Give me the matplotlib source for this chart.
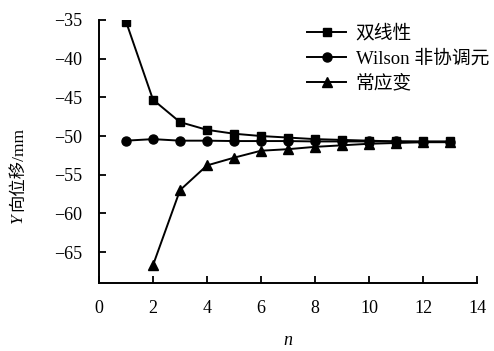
import matplotlib
matplotlib.use('Agg')
import matplotlib.pyplot as plt

plt.rcParams['font.family'] = ['Liberation Serif', 'Noto Sans CJK SC']
plt.rcParams['axes.unicode_minus'] = True

#%% data
n_bilinear = [1, 2, 3, 4, 5, 6, 7, 8, 9, 10, 11, 12, 13]
y_bilinear = [-35.2, -45.3, -48.2, -49.2, -49.7, -50.0, -50.2, -50.4, -50.5, -50.6, -50.7, -50.7, -50.7]

n_wilson = [1, 2, 3, 4, 5, 6, 7, 8, 9, 10, 11, 12, 13]
y_wilson = [-50.6, -50.4, -50.6, -50.6, -50.65, -50.65, -50.65, -50.7, -50.7, -50.7, -50.7, -50.75, -50.75]

n_const = [2, 3, 4, 5, 6, 7, 8, 9, 10, 11, 12, 13]
y_const = [-66.7, -57.0, -53.8, -52.8, -51.9, -51.7, -51.4, -51.2, -51.0, -50.9, -50.8, -50.8]

labels = ['双线性', 'Wilson 非协调元', '常应变']
xticks = [0, 2, 4, 6, 8, 10, 12, 14]
yticks = [-35, -40, -45, -50, -55, -60, -65]

#%%
W, H = 494, 351
fig = plt.figure(figsize=(W / 100, H / 100), dpi=100)
ax = fig.add_axes([99 / W, 1 - 283 / H, 378 / W, 263 / H])

ax.plot(n_bilinear, y_bilinear, color='black', lw=1.4, marker='s', ms=6, label=labels[0])
ax.plot(n_wilson, y_wilson, color='black', lw=1.4, marker='o', ms=6.5, label=labels[1])
ax.plot(n_const, y_const, color='black', lw=1.4, marker='^', ms=6.5, label=labels[2])

ax.set_xlim(0, 14)
ax.set_ylim(-69, -35)
ax.set_xticks(xticks)
ax.set_yticks(yticks)
ax.tick_params(direction='in', length=5, width=1.3, labelsize=13)
ax.tick_params(axis='x', pad=12)
ax.tick_params(axis='y', pad=12)

for side in ['top', 'right']:
    ax.spines[side].set_visible(False)
for side in ['left', 'bottom']:
    ax.spines[side].set_linewidth(1.4)

ax.set_xlabel('n', fontsize=13, style='italic', labelpad=11)

# y label: italic Y followed by the rest, stacked bottom-up
x_lab = 18 / W
t_y = fig.text(x_lab, 1 - 223 / H, 'Y', rotation=90, ha='center', va='bottom',
               fontsize=12.5, style='italic')
fig.canvas.draw()
bb = t_y.get_window_extent(fig.canvas.get_renderer())
fig.text(x_lab, (bb.y1 + 2) / H, '向位移/mm', rotation=90, ha='center', va='bottom',
         fontsize=12.5)

ax.legend(loc='upper left', bbox_to_anchor=(0.53, 1.01), frameon=False, fontsize=13.5,
          handlelength=2.1, handletextpad=0.5, labelspacing=0.38, borderaxespad=0)

fig.savefig('out.png', dpi=100)
